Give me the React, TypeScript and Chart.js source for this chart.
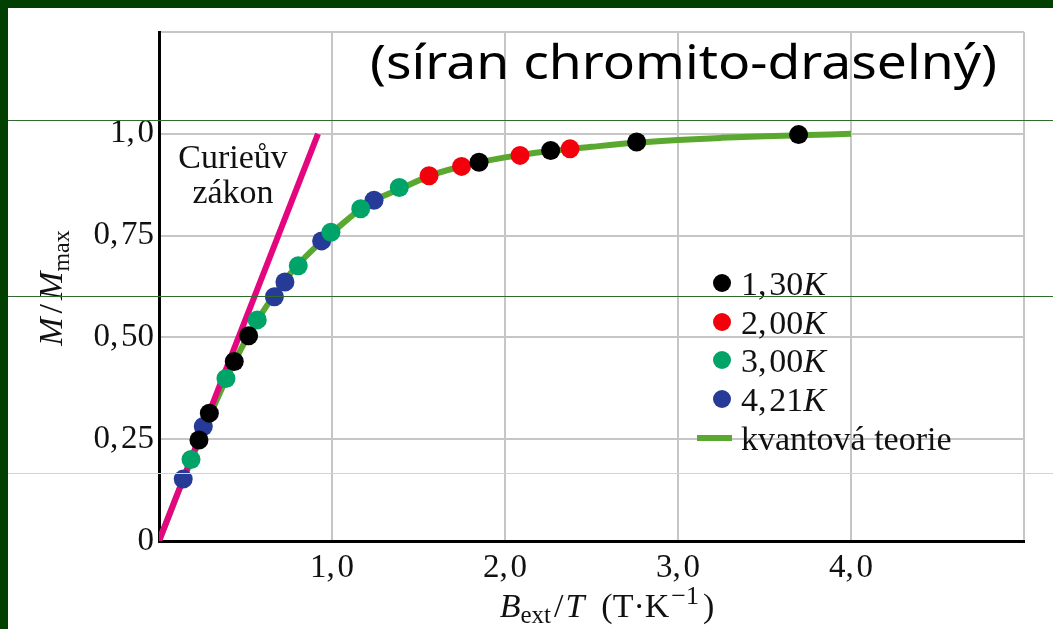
import { useEffect, useRef } from "react";
import { Chart, registerables } from "chart.js";

Chart.register(...registerables);

// ---- data ----
const curieX = [0, 0.919];
const curieY = [0, 1.0];

const theoryX = [0, 0.1, 0.2, 0.3, 0.4, 0.5, 0.6, 0.7, 0.8, 0.9, 1.0, 1.2, 1.4, 1.6, 1.8, 2.0, 2.25, 2.5, 2.75, 3.0, 3.25, 3.5, 3.75, 4.0];
const theoryY = [0, 0.108, 0.213, 0.314, 0.408, 0.492, 0.563, 0.625, 0.677, 0.72, 0.757, 0.826, 0.866, 0.902, 0.925, 0.942, 0.957, 0.968, 0.978, 0.985, 0.99, 0.994, 0.997, 1.0];

const k130X = [0.231, 0.291, 0.435, 0.518, 1.85, 2.264, 2.761, 3.697];
const k130Y = [0.248, 0.314, 0.441, 0.504, 0.93, 0.959, 0.98, 0.998];
const k200X = [1.561, 1.749, 2.087, 2.376];
const k200Y = [0.897, 0.92, 0.947, 0.963];
const k300X = [0.185, 0.387, 0.568, 0.805, 0.994, 1.166, 1.389];
const k300Y = [0.2, 0.399, 0.543, 0.676, 0.758, 0.816, 0.868];
const k421X = [0.14, 0.256, 0.667, 0.728, 0.94, 1.243];
const k421Y = [0.152, 0.281, 0.6, 0.636, 0.737, 0.837];

const seriesTemps = ["1,\u200A30", "2,\u200A00", "3,\u200A00", "4,\u200A21"];
const seriesColors = ["#000000", "#f4000c", "#00a469", "#263a97"];
const theoryLabel = "kvantová teorie";
const curieLabel = ["Curieův", "zákon"];
const titleText = "(síran chromito-draselný)";

const xTickLabels = ["", "1,\u200A0", "2,\u200A0", "3,\u200A0", "4,\u200A0", ""];
const yTickLabels = ["0", "0,\u200A25", "0,\u200A50", "0,\u200A75", "1,\u200A0", ""];

const SERIF = '"Liberation Serif", "DejaVu Serif", serif';
const MAGENTA = "#e4067f";
const LINEGREEN = "#5aa82f";

type Run = { t: string; font: string; dy?: number; gap?: number };

function runsWidth(ctx: CanvasRenderingContext2D, runs: Run[]) {
  let w = 0;
  for (const r of runs) {
    ctx.font = r.font;
    w += ctx.measureText(r.t).width + (r.gap || 0);
  }
  return w;
}
function drawRuns(ctx: CanvasRenderingContext2D, runs: Run[], x: number, y: number) {
  let cx = x;
  for (const r of runs) {
    ctx.font = r.font;
    ctx.fillText(r.t, cx, y + (r.dy || 0));
    cx += ctx.measureText(r.t).width + (r.gap || 0);
  }
}

const annotPlugin = {
  id: "annot",
  afterDraw(chart: any) {
    const ctx: CanvasRenderingContext2D = chart.ctx;
    ctx.save();
    ctx.textBaseline = "alphabetic";
    ctx.textAlign = "left";

    // title (stretched horizontally to the reference's width)
    ctx.font = '48px "Noto Sans"';
    ctx.fillStyle = "#000";
    const tw = ctx.measureText(titleText).width;
    ctx.save();
    ctx.translate(370, 79);
    ctx.scale(627 / tw, 1);
    ctx.fillText(titleText, 0, 0);
    ctx.restore();

    // Curie label
    ctx.fillStyle = "#111";
    ctx.font = `34px ${SERIF}`;
    ctx.textAlign = "center";
    ctx.fillText(curieLabel[0], 233, 168);
    ctx.fillText(curieLabel[1], 233, 203);
    ctx.textAlign = "left";

    // legend
    const baselines = [295, 334, 372, 411, 450];
    for (let i = 0; i < 4; i++) {
      ctx.fillStyle = seriesColors[i];
      ctx.beginPath();
      ctx.arc(722, baselines[i] - 12, 9, 0, Math.PI * 2);
      ctx.fill();
      ctx.fillStyle = "#111";
      drawRuns(ctx, [
        { t: seriesTemps[i], font: `34px ${SERIF}` },
        { t: "K", font: `italic 34px ${SERIF}` },
      ], 741, baselines[i]);
    }
    ctx.strokeStyle = LINEGREEN;
    ctx.lineWidth = 6;
    ctx.beginPath();
    ctx.moveTo(697, baselines[4] - 12);
    ctx.lineTo(732, baselines[4] - 12);
    ctx.stroke();
    ctx.fillStyle = "#111";
    ctx.font = `34px ${SERIF}`;
    ctx.fillText(theoryLabel, 741, baselines[4]);

    // x axis title
    const xr: Run[] = [
      { t: "B", font: `italic 34px ${SERIF}` },
      { t: "ext", font: `25px ${SERIF}`, dy: 6, gap: 3 },
      { t: "/", font: `34px ${SERIF}`, gap: 2 },
      { t: "T", font: `italic 34px ${SERIF}`, gap: 17 },
      { t: "(T·K", font: `34px ${SERIF}`, gap: 2 },
      { t: "\u22121", font: `26px ${SERIF}`, dy: -13, gap: 4 },
      { t: ")", font: `34px ${SERIF}` },
    ];
    const xw = runsWidth(ctx, xr);
    drawRuns(ctx, xr, 607 - xw / 2, 617);

    // y axis title
    const yr: Run[] = [
      { t: "M", font: `italic 34px ${SERIF}`, gap: 4 },
      { t: "/", font: `34px ${SERIF}`, gap: 4 },
      { t: "M", font: `italic 34px ${SERIF}` },
      { t: "max", font: `24px ${SERIF}`, dy: 7 },
    ];
    const yw = runsWidth(ctx, yr);
    ctx.translate(62, 288);
    ctx.rotate(-Math.PI / 2);
    drawRuns(ctx, yr, -yw / 2, 0);
    ctx.restore();
  },
};

export default function App() {
  const ref = useRef<HTMLCanvasElement>(null);
  useEffect(() => {
    const pts = (xs: number[], ys: number[]) => xs.map((x, i) => ({ x, y: ys[i] }));
    const scatterSets = [
      [k130X, k130Y],
      [k200X, k200Y],
      [k300X, k300Y],
      [k421X, k421Y],
    ].map(([xs, ys], i) => ({
      type: "scatter" as const,
      label: seriesTemps[i] + "K",
      data: pts(xs, ys),
      backgroundColor: seriesColors[i],
      borderWidth: 0,
      pointRadius: 9.5,
      order: 0,
    }));
    const chart = new Chart(ref.current!, {
      type: "scatter",
      data: {
        datasets: [
          ...scatterSets,
          {
            type: "line",
            label: curieLabel.join(" "),
            data: pts(curieX, curieY),
            borderColor: MAGENTA,
            borderWidth: 6,
            pointRadius: 0,
            order: 1,
          },
          {
            type: "line",
            label: theoryLabel,
            data: pts(theoryX, theoryY),
            borderColor: LINEGREEN,
            borderWidth: 6,
            pointRadius: 0,
            cubicInterpolationMode: "monotone",
            order: 2,
          },
        ] as any,
      },
      options: {
        animation: false,
        responsive: false,
        devicePixelRatio: 1,
        layout: { padding: { top: 32, right: 29, left: 0, bottom: 0 } },
        plugins: { legend: { display: false }, tooltip: { enabled: false }, title: { display: false } },
        scales: {
          x: {
            type: "linear",
            min: 0,
            max: 5,
            afterFit: (s: any) => {
              s.height = 88;
            },
            ticks: {
              stepSize: 1,
              color: "#111",
              font: { family: SERIF, size: 33 },
              padding: 8,
              maxRotation: 0,
              callback: (v: any) => xTickLabels[Math.round(Number(v))] ?? "",
            },
            grid: { color: "#c6c6c6", lineWidth: 2, drawTicks: false },
            border: { display: true, color: "#000", width: 3 },
          },
          y: {
            type: "linear",
            min: 0,
            max: 1.25,
            afterFit: (s: any) => {
              s.width = 159;
            },
            ticks: {
              stepSize: 0.25,
              color: "#111",
              font: { family: SERIF, size: 33 },
              padding: 5,
              callback: (v: any) => yTickLabels[Math.round(Number(v) * 4)] ?? "",
            },
            grid: { color: "#c6c6c6", lineWidth: 2, drawTicks: false },
            border: { display: true, color: "#000", width: 3 },
          },
        },
      },
      plugins: [annotPlugin],
    });
    return () => chart.destroy();
  }, []);

  const hline = (top: number, color: string) => (
    <div style={{ position: "absolute", left: 8, top, width: 1045, height: 1, background: color }} />
  );

  return (
    <div style={{ position: "fixed", left: 0, top: 0, width: 1053, height: 629, background: "#014001", overflow: "hidden" }}>
      <div style={{ position: "absolute", left: 8, top: 8, width: 1045, height: 621, background: "#ffffff" }} />
      <canvas ref={ref} width={1053} height={629} style={{ position: "absolute", left: 0, top: 0, width: 1053, height: 629 }} />
      {hline(120, "#2f6a2f")}
      {hline(296, "#2f6a2f")}
      {hline(473, "#cbd9cb")}
    </div>
  );
}
